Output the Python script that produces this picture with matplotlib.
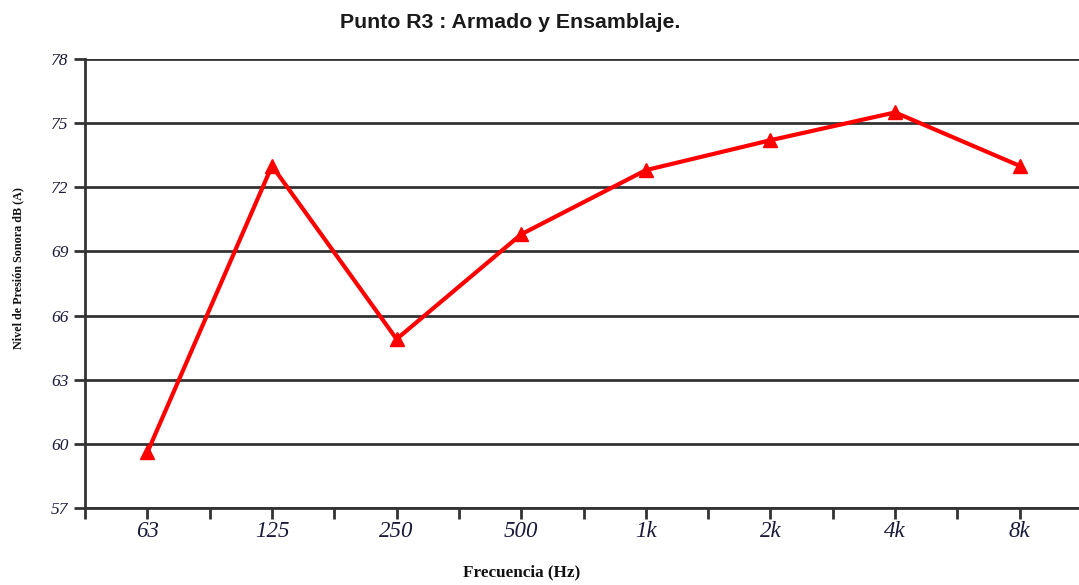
import matplotlib.pyplot as plt
import numpy as np

bands = ['63', '125', '250', '500', '1k', '2k', '4k', '8k']
levels = [59.6, 73.0, 64.9, 69.8, 72.8, 74.2, 75.5, 73.0]
yticks = [57, 60, 63, 66, 69, 72, 75, 78]

line_col = '#ff0000'
grid_col = '#333333'
tick_txt = '#1a1a3a'

fig = plt.figure(figsize=(10.79, 5.85), dpi=100)
ax = fig.add_axes([0.0788, 0.1316, 0.924, 0.7676])

x = np.arange(len(bands))
ax.plot(x, levels, color=line_col, linewidth=3, marker='^', markersize=10,
        markeredgecolor=line_col, zorder=3)

ax.set_xlim(-0.5, len(bands) - 0.5)
ax.set_ylim(57, 78)
ax.set_yticks(yticks)
ax.set_yticklabels([str(v) for v in yticks], family='Liberation Serif',
                   style='italic', fontsize=12.5, color=tick_txt)
ax.set_xticks(x)
ax.set_xticklabels(bands, family='Liberation Serif', style='italic',
                   fontsize=16.5, color=tick_txt)
ax.set_xticks(np.arange(-0.5, len(bands)), minor=True)
ax.tick_params(axis='x', which='both', length=8, width=2, color=grid_col, pad=1)
ax.tick_params(axis='y', length=8, width=2, color=grid_col, pad=4)

ax.grid(True, axis='y', color=grid_col, linewidth=2)
ax.set_axisbelow(True)
for sp in ['top', 'right']:
    ax.spines[sp].set_visible(False)
for sp in ['left', 'bottom']:
    ax.spines[sp].set_color(grid_col)
    ax.spines[sp].set_linewidth(2)

fig.text(0.4727, 0.962, 'Punto R3 : Armado y Ensamblaje.', ha='center', va='center',
         family='Liberation Sans', fontweight='bold', fontsize=15.3, color='#1a1a1a')
fig.text(0.483, 0.022, 'Frecuencia (Hz)', ha='center', va='center',
         family='Liberation Serif', fontweight='bold', fontsize=12.3, color='#111111')
fig.text(0.017, 0.542, 'Nivel de Presión Sonora dB (A)', ha='center', va='center',
         rotation=90, family='Liberation Serif', fontweight='bold', fontsize=8.7,
         color='#111111')

fig.savefig('out.png', dpi=100)
